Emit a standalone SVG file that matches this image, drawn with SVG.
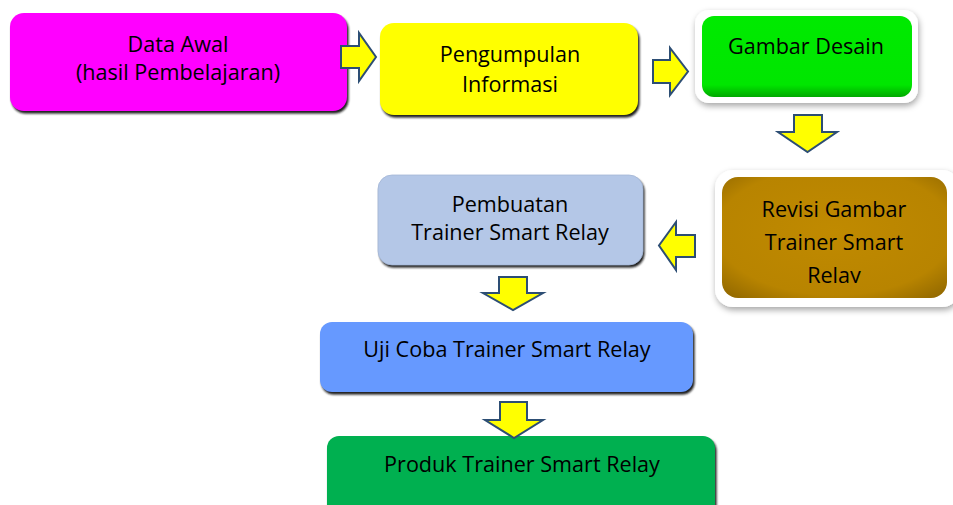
<svg xmlns="http://www.w3.org/2000/svg" width="953" height="505" viewBox="0 0 953 505">
  <defs>
    <style>
      .lbl { font-family: "Open Sans", "Noto Sans", sans-serif; font-size: 21.6px; fill: #000; text-anchor: middle; }
      .arrow { fill: #ffff00; stroke: #2d4e74; stroke-width: 2; stroke-linejoin: miter; }
      .shadow { fill: #1a1a1a; }
    </style>
    <filter id="soft" x="-10%" y="-10%" width="120%" height="130%">
      <feGaussianBlur stdDeviation="0.8"/>
    </filter>
    <filter id="glow" x="-10%" y="-15%" width="120%" height="135%">
      <feDropShadow dx="1" dy="3" stdDeviation="3" flood-color="#000" flood-opacity="0.35"/>
    </filter>
    <linearGradient id="greenBevel" x1="0" y1="0" x2="0" y2="1">
      <stop offset="0" stop-color="#00ea00"/>
      <stop offset="0.85" stop-color="#00e600"/>
      <stop offset="1" stop-color="#00a800"/>
    </linearGradient>
    <radialGradient id="brownBevel" cx="0.5" cy="0.45" r="0.75">
      <stop offset="0" stop-color="#c08a00"/>
      <stop offset="0.7" stop-color="#b88400"/>
      <stop offset="1" stop-color="#8c6400"/>
    </radialGradient>
    <clipPath id="revClip">
      <rect x="722" y="177" width="225" height="106"/>
    </clipPath>
  </defs>

  <!-- process steps -->
  <g id="data-awal">
    <rect class="shadow" x="11.5" y="15.5" width="337" height="98" rx="14" filter="url(#soft)"/>
    <rect x="10" y="13" width="337" height="98" rx="14" fill="#ff00ff"/>
    <text class="lbl" x="178" y="52">Data Awal</text>
    <text class="lbl" x="178" y="80">(hasil Pembelajaran)</text>
  </g>

  <g id="pengumpulan">
    <rect class="shadow" x="381.5" y="25.5" width="258" height="92" rx="14" filter="url(#soft)"/>
    <rect x="380" y="23" width="258" height="92" rx="14" fill="#ffff00"/>
    <text class="lbl" x="510" y="62">Pengumpulan</text>
    <text class="lbl" x="510" y="92">Informasi</text>
  </g>

  <g id="gambar-desain">
    <rect x="695" y="10" width="223" height="93" rx="14" fill="#fff" filter="url(#glow)"/>
    <rect x="702" y="16" width="210" height="81" rx="12" fill="url(#greenBevel)"/>
    <text class="lbl" x="806" y="54">Gambar Desain</text>
  </g>

  <g id="revisi-gambar">
    <rect x="715" y="170" width="245" height="137" rx="18" fill="#fff" filter="url(#glow)"/>
    <rect x="722" y="177" width="225" height="121" rx="16" fill="url(#brownBevel)"/>
    <g clip-path="url(#revClip)">
      <text class="lbl" x="834" y="217">Revisi Gambar</text>
      <text class="lbl" x="834" y="250">Trainer Smart</text>
      <text class="lbl" x="834" y="283">Relay</text>
    </g>
  </g>

  <g id="pembuatan">
    <rect class="shadow" x="379.5" y="177.5" width="265" height="90" rx="14" filter="url(#soft)"/>
    <rect x="378" y="175" width="265" height="90" rx="14" fill="#b4c7e7" stroke="#a3b6d6" stroke-width="0.8"/>
    <text class="lbl" x="510" y="212">Pembuatan</text>
    <text class="lbl" x="510" y="240">Trainer Smart Relay</text>
  </g>

  <g id="uji-coba">
    <rect class="shadow" x="321.5" y="324.5" width="373" height="70" rx="12" filter="url(#soft)"/>
    <rect x="320" y="322" width="373" height="70" rx="12" fill="#6699ff"/>
    <text class="lbl" x="507" y="357">Uji Coba Trainer Smart Relay</text>
  </g>

  <g id="produk">
    <rect class="shadow" x="328.5" y="438.5" width="388" height="80" rx="12" filter="url(#soft)"/>
    <rect x="327" y="436" width="388" height="80" rx="12" fill="#00b050"/>
    <text class="lbl" x="522" y="472">Produk Trainer Smart Relay</text>
  </g>

  <!-- block arrows between steps -->
  <g id="connectors">
    <polygon class="arrow" points="341,46 359,46 359,33 376,57 359,81 359,68 341,68"/>
    <polygon class="arrow" points="653,60 670,60 670,48 688,71.5 670,95 670,83 653,83"/>
    <polygon class="arrow" points="794,115 822,115 822,132 837,132 807.5,152 778,132 794,132"/>
    <polygon class="arrow" points="695,235 676,235 676,222 659,245.5 676,270 676,257 695,257"/>
    <polygon class="arrow" points="499,277 527,277 527,293 543,293 513,310 483,293 499,293"/>
    <polygon class="arrow" points="500,402 527,402 527,420 543,420 514,438 485,420 500,420"/>
  </g>
</svg>
